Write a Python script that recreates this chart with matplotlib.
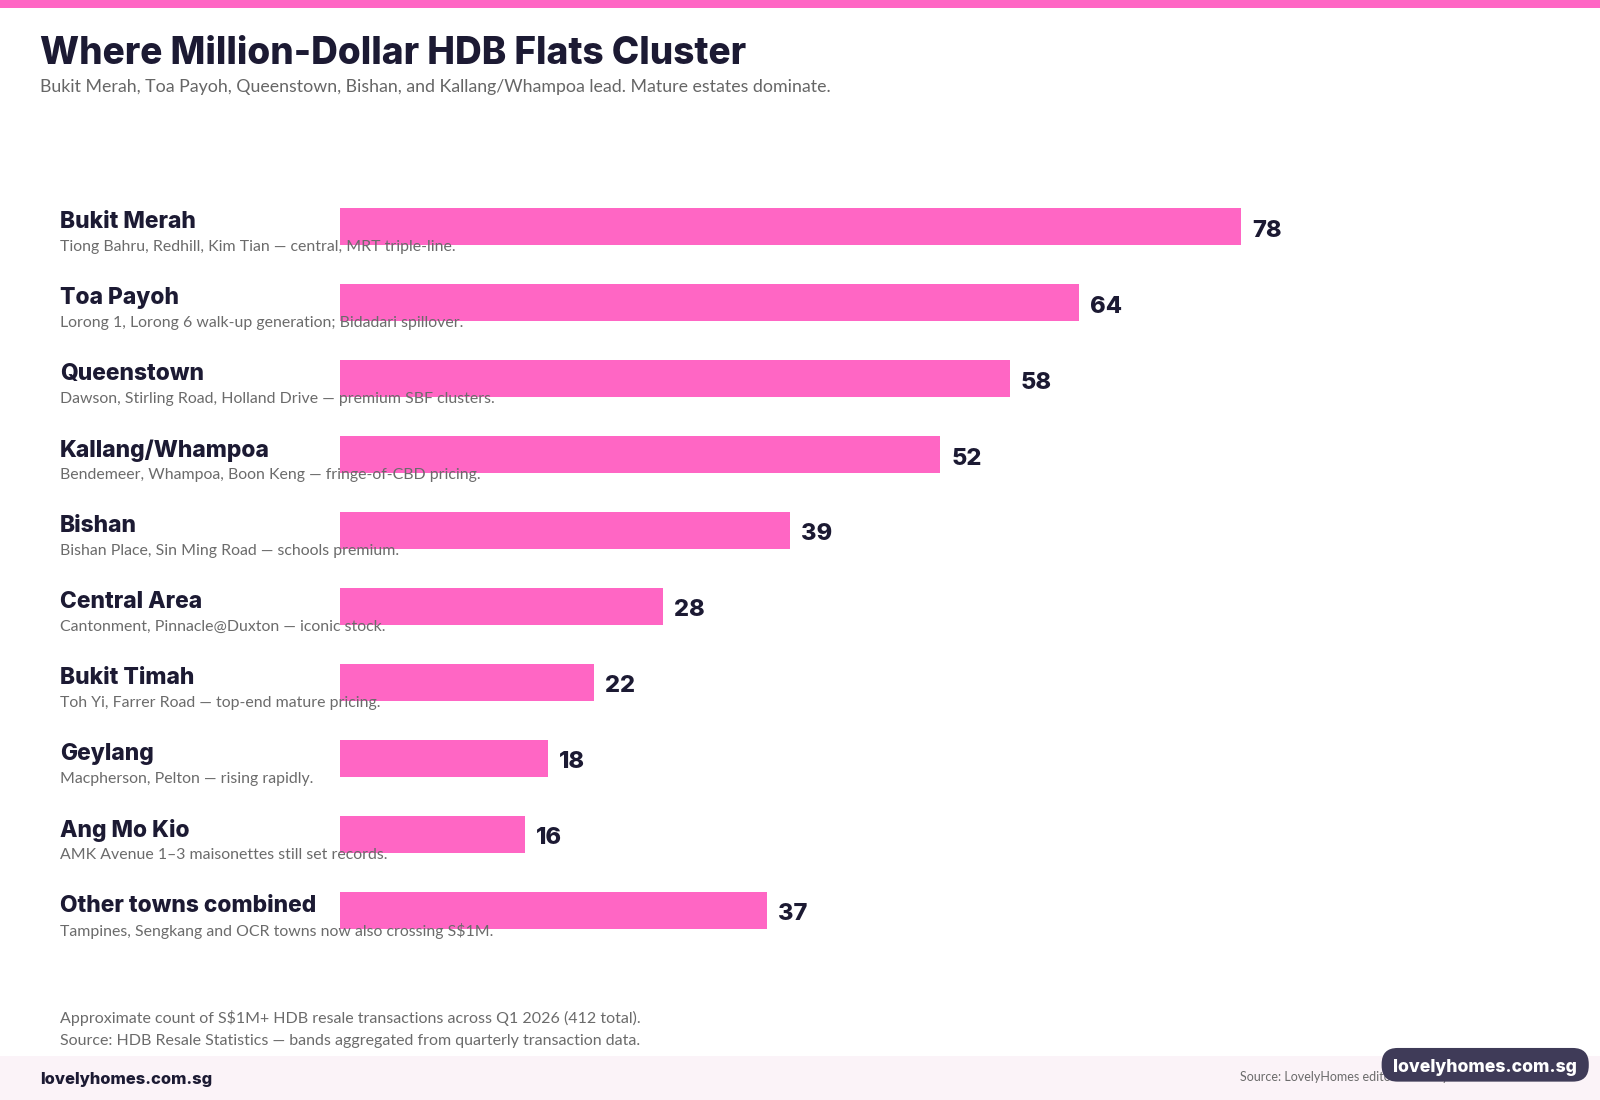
import matplotlib
matplotlib.use("Agg")
import matplotlib.pyplot as plt
from matplotlib.patches import Rectangle, FancyBboxPatch
import matplotlib.transforms as mtransforms

towns = ["Bukit Merah", "Toa Payoh", "Queenstown", "Kallang/Whampoa", "Bishan",
         "Central Area", "Bukit Timah", "Geylang", "Ang Mo Kio", "Other towns combined"]
descriptions = [
    "Tiong Bahru, Redhill, Kim Tian \u2014 central, MRT triple-line.",
    "Lorong 1, Lorong 6 walk-up generation; Bidadari spillover.",
    "Dawson, Stirling Road, Holland Drive \u2014 premium SBF clusters.",
    "Bendemeer, Whampoa, Boon Keng \u2014 fringe-of-CBD pricing.",
    "Bishan Place, Sin Ming Road \u2014 schools premium.",
    "Cantonment, Pinnacle@Duxton \u2014 iconic stock.",
    "Toh Yi, Farrer Road \u2014 top-end mature pricing.",
    "Macpherson, Pelton \u2014 rising rapidly.",
    "AMK Avenue 1\u20133 maisonettes still set records.",
    "Tampines, Sengkang and OCR towns now also crossing S$1M.",
]
counts = [78, 64, 58, 52, 39, 28, 22, 18, 16, 37]

PINK = "#FF66C4"
DARK = "#1C1A33"
GREY = "#6B6B6B"
HEAD = ["Inter", "DejaVu Sans"]
BODY = ["Lato", "DejaVu Sans"]

W, H = 1568.0, 1078.0
def fx(x): return x / W
def fy(y): return 1 - y / H

fig = plt.figure(figsize=(16, 11), dpi=100)
fig.patch.set_facecolor("white")

# top band
fig.patches.append(Rectangle((0, fy(8)), 1, 8 / H, transform=fig.transFigure,
                             facecolor=PINK, edgecolor="none", zorder=0))
# footer band
fig.patches.append(Rectangle((0, 0), 1, (H - 1035) / H, transform=fig.transFigure,
                             facecolor="#FBF3F8", edgecolor="none", zorder=0))

fig.text(fx(39), fy(53), "Where Million-Dollar HDB Flats Cluster", family=HEAD,
         fontweight="heavy", fontsize=26.6, color=DARK, va="center", ha="left")
fig.text(fx(39), fy(85), "Bukit Merah, Toa Payoh, Queenstown, Bishan, and Kallang/Whampoa lead. Mature estates dominate.",
         family=BODY, fontsize=12.8, color="#666666", va="center", ha="left")

# main axes
row0, step = 222.0, 74.45
top_px = row0 - step / 2
bot_px = row0 + step * 9.5
ax = fig.add_axes([fx(333), fy(bot_px), 1132 / W, (bot_px - top_px) / H])
ax.set_xlim(0, 100)
ax.set_ylim(9.5, -0.5)
ax.axis("off")
ypos = list(range(len(towns)))
ax.barh(ypos, counts, height=36 / step, color=PINK, zorder=2)

trans = mtransforms.blended_transform_factory(fig.transFigure, ax.transData)
for i, (t, d, c) in enumerate(zip(towns, descriptions, counts)):
    ax.text(fx(59), i - 4 / step, t, transform=trans, family=HEAD, fontweight="heavy",
            fontsize=16.4, color=DARK, va="center", ha="left", zorder=3)
    ax.text(fx(59), i + 20 / step, d, transform=trans, family=BODY, fontsize=11.4,
            color=GREY, va="center", ha="left", zorder=4)
    ax.annotate(str(c), xy=(c, i + 4 / step), xytext=(8, 0), textcoords="offset points",
                family=HEAD, fontweight="heavy", fontsize=17, color=DARK,
                va="center", ha="left", zorder=3, annotation_clip=False)

fig.text(fx(59), fy(998), "Approximate count of S$1M+ HDB resale transactions across Q1 2026 (412 total).",
         family=BODY, fontsize=11.5, color=GREY, va="center", ha="left")
fig.text(fx(59), fy(1020), "Source: HDB Resale Statistics \u2014 bands aggregated from quarterly transaction data.",
         family=BODY, fontsize=11.5, color=GREY, va="center", ha="left")

fig.text(fx(39), fy(1058), "lovelyhomes.com.sg", family=HEAD, fontweight="heavy",
         fontsize=11.9, color=DARK, va="center", ha="left")
fig.text(fx(1215), fy(1055), "Source: LovelyHomes editorial \u2014 May 2026", family=BODY,
         fontsize=9, color=GREY, va="center", ha="left")

badge = FancyBboxPatch((fx(1354), fy(1060)), (1557 - 1354) / W, 33 / H,
                       boxstyle="round,pad=0,rounding_size=0.01",
                       transform=fig.transFigure, facecolor="#3F3B58",
                       edgecolor="none", zorder=5, mutation_aspect=W / H)
fig.patches.append(badge)
fig.text(fx(1455), fy(1046), "lovelyhomes.com.sg", family=HEAD, fontweight="heavy",
         fontsize=12.7, color="white", va="center", ha="center", zorder=6)

fig.savefig("out.png", dpi=100, facecolor="white")
